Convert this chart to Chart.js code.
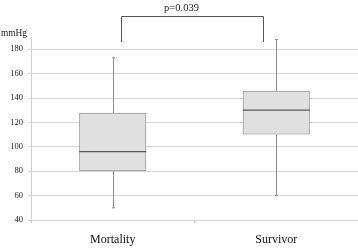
<!DOCTYPE html>
<html lang="en">
<head>
<meta charset="UTF-8">
<title>Blood pressure box plot</title>
<style>
  html, body { margin: 0; padding: 0; background: #fff; }
  canvas { display: block; }
</style>
<script src="https://cdn.jsdelivr.net/npm/chart.js"></script>
</head>
<body>
<canvas id="chart" width="358" height="248"></canvas>
<script>
// box plot values (mmHg)
const groups = ['Mortality', 'Survivor'];
const whiskerLow = [50, 60];
const q1 = [80, 110];
const median = [96, 130];
const q3 = [128, 146];
const whiskerHigh = [173, 188];
const yTicks = [40, 60, 80, 100, 120, 140, 160, 180];
const unitLabel = 'mmHg';
const pLabel = 'p=0.039';

const serif = '"Liberation Serif", "Times New Roman", serif';

// whiskers, medians, unit label and significance bracket
const boxExtras = {
  id: 'boxExtras',
  afterDatasetsDraw(chart) {
    const { ctx } = chart;
    const y = chart.scales.y;
    const meta = chart.getDatasetMeta(0);
    ctx.save();
    groups.forEach((g, i) => {
      const bar = meta.data[i];
      const x = Math.round(bar.x) + 0.5;
      ctx.strokeStyle = '#8a8a8a';
      ctx.lineWidth = 1;
      ctx.beginPath();
      ctx.moveTo(x, y.getPixelForValue(q3[i]));
      ctx.lineTo(x, y.getPixelForValue(whiskerHigh[i]));
      ctx.moveTo(x, y.getPixelForValue(q1[i]));
      ctx.lineTo(x, y.getPixelForValue(whiskerLow[i]));
      // tiny caps
      ctx.moveTo(x - 1.5, y.getPixelForValue(whiskerHigh[i]));
      ctx.lineTo(x + 1.5, y.getPixelForValue(whiskerHigh[i]));
      ctx.moveTo(x - 1.5, y.getPixelForValue(whiskerLow[i]));
      ctx.lineTo(x + 1.5, y.getPixelForValue(whiskerLow[i]));
      ctx.stroke();

      const half = bar.width / 2;
      const my = y.getPixelForValue(median[i]);
      ctx.strokeStyle = '#5a5a5a';
      ctx.lineWidth = 1.3;
      ctx.beginPath();
      ctx.moveTo(bar.x - half, my);
      ctx.lineTo(bar.x + half, my);
      ctx.stroke();
    });
    ctx.restore();
  },
  afterDraw(chart) {
    const { ctx } = chart;
    const x = chart.scales.x;
    ctx.save();
    ctx.fillStyle = '#222';
    ctx.font = '9.4px ' + serif;
    ctx.textAlign = 'left';
    ctx.textBaseline = 'alphabetic';
    ctx.fillText(unitLabel, 1, 36);

    const xl = Math.round(x.getPixelForValue(0)) + 8.5;
    const xr = Math.round(x.getPixelForValue(1)) - 12.5;
    ctx.strokeStyle = '#555';
    ctx.lineWidth = 1;
    ctx.beginPath();
    ctx.moveTo(xl, 42);
    ctx.lineTo(xl, 16.5);
    ctx.lineTo(xr, 16.5);
    ctx.lineTo(xr, 42);
    ctx.stroke();

    ctx.font = '10.5px ' + serif;
    ctx.textAlign = 'center';
    ctx.fillText(pLabel, (xl + xr) / 2 - 11, 11);
    ctx.restore();
  }
};

new Chart(document.getElementById('chart'), {
  type: 'bar',
  data: {
    labels: groups,
    datasets: [{
      data: groups.map((g, i) => [q1[i], q3[i]]),
      backgroundColor: '#e0e0e0',
      borderColor: '#7c7c7c',
      borderWidth: 1,
      borderSkipped: false,
      barPercentage: 0.41,
      categoryPercentage: 1
    }]
  },
  options: {
    responsive: false,
    animation: false,
    layout: { padding: { top: 37, right: -2, left: 0, bottom: 0 } },
    plugins: { legend: { display: false }, tooltip: { enabled: false } },
    scales: {
      x: {
        offset: true,
        grid: { offset: true, drawOnChartArea: false, tickLength: 3, color: '#cfcfcf' },
        border: { display: false },
        ticks: { color: '#111', font: { family: serif, size: 12 }, padding: 10 },
        afterFit(scale) { scale.height = 28; }
      },
      y: {
        min: 40,
        max: 190,
        grid: { color: '#d8d8d8', tickLength: 3 },
        border: { color: '#cfcfcf' },
        ticks: { stepSize: 20, includeBounds: false, color: '#222', padding: 5, font: { family: serif, size: 8.5 } },
        afterBuildTicks(scale) {
          scale.ticks = yTicks.map(v => ({ value: v }));
        },
        afterFit(scale) { scale.width = 31; }
      }
    }
  },
  plugins: [boxExtras]
});
</script>
</body>
</html>
